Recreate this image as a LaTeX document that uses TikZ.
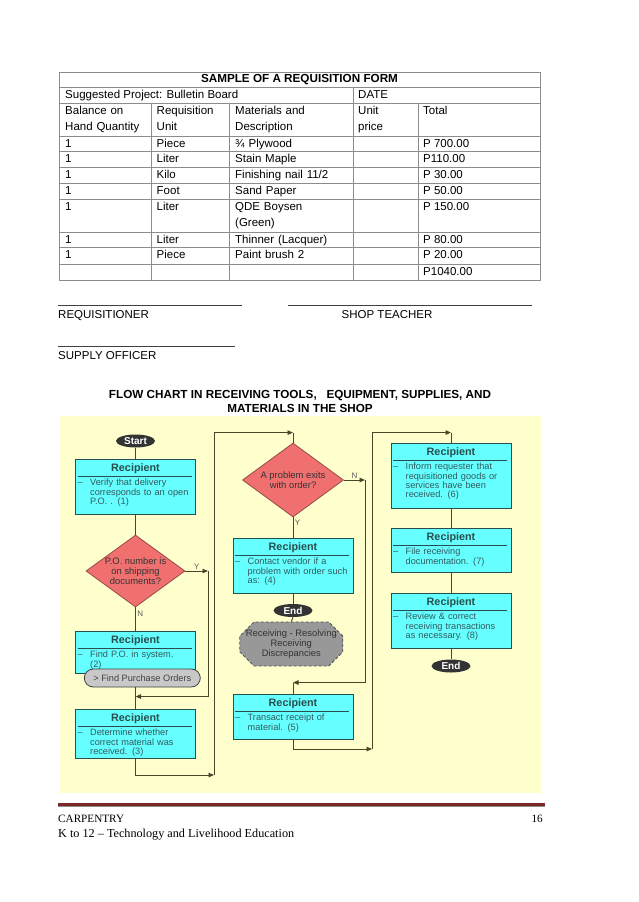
\documentclass[tikz,border=0pt]{standalone}
\usepackage{fontspec}
\setmainfont{Liberation Sans}
\newfontfamily\footfont{Liberation Serif}
\usetikzlibrary{arrows.meta,positioning,shapes.geometric,shapes.misc,calc}
\definecolor{formline}{RGB}{140,140,140}
\definecolor{chartbg}{RGB}{255,255,206}
\definecolor{boxcyan}{RGB}{102,255,255}
\definecolor{boxedge}{RGB}{40,78,78}
\definecolor{boxtext}{RGB}{50,90,95}
\definecolor{decisionred}{RGB}{240,112,112}
\definecolor{decisionedge}{RGB}{150,75,75}
\definecolor{flowline}{RGB}{75,70,40}
\definecolor{termgray}{RGB}{51,51,51}
\definecolor{subgray}{RGB}{200,200,200}
\definecolor{hexgray}{RGB}{152,152,152}
\definecolor{footred}{RGB}{122,40,40}

\begin{document}
\begin{tikzpicture}[x=1pt,y=-1pt,
    cell/.style={anchor=base west,inner sep=0pt,align=left,
      font=\fontsize{11.5}{16}\selectfont},
    heading/.style={anchor=base,inner sep=0pt,
      font=\fontsize{11.7}{14}\selectfont\bfseries},
    recbox/.style={draw=boxedge,fill=boxcyan,line width=0.9pt,
      minimum width=120pt,inner sep=0pt},
    rectitle/.style={anchor=base,inner sep=0pt,text=boxedge,
      font=\fontsize{10.8}{12}\selectfont\bfseries},
    recbody/.style={anchor=base west,inner sep=0pt,text width=104pt,
      align=left,text=boxtext,font=\fontsize{9.2}{9.2}\selectfont},
    decision/.style={diamond,draw=decisionedge,fill=decisionred,
      line width=0.8pt,inner sep=0pt},
    dectext/.style={align=center,inner sep=0pt,text=black!80,
      font=\fontsize{9.4}{10.3}\selectfont},
    term/.style={ellipse,fill=termgray,text=white,inner sep=0pt,
      minimum width=39pt,minimum height=13pt,
      font=\fontsize{10}{10}\selectfont\bfseries},
    subproc/.style={rounded rectangle,draw=black!75,fill=subgray,
      line width=0.8pt,inner sep=0pt,minimum width=116pt,minimum height=18pt,
      text=black!75,font=\fontsize{9.2}{10}\selectfont},
    hexproc/.style={chamfered rectangle,chamfered rectangle xsep=6pt,
      chamfered rectangle ysep=8pt,draw=black!70,densely dashed,
      fill=hexgray,line width=0.8pt,inner sep=0pt,minimum width=97pt,
      minimum height=34pt,align=center,text=black!80,
      font=\fontsize{9.4}{9.6}\selectfont},
    flow/.style={draw=flowline,line width=0.9pt},
    flowarrow/.style={flow,-{Triangle[length=5.5pt,width=4.5pt]}},
    flowlabel/.style={inner sep=1.5pt,text=black!65,
      font=\fontsize{8}{8}\selectfont},
    foot/.style={anchor=base west,inner sep=0pt,
      font=\footfont\fontsize{11.2}{13}\selectfont}]
  \useasboundingbox (0,0) rectangle (638,902);
  \fill[white] (0,0) rectangle (638,902);

  \draw[formline,line width=0.8pt] (59,72) rectangle (540,280);
  \foreach \ry in {87,103,136,151,167,183,199,232,247,264}
    \draw[formline,line width=0.8pt] (59,\ry) -- (540,\ry);
  \foreach \cx in {151,229,418}
    \draw[formline,line width=0.8pt] (\cx,103) -- (\cx,280);
  \draw[formline,line width=0.8pt] (353,87) -- (353,280);

  \node[heading] (formtitle) at (299.5,82.5) {SAMPLE OF A REQUISITION FORM};
  \node[cell] (project) at (65,98.5) {Suggested Project: Bulletin Board};
  \node[cell] (date) at (358,98.5) {DATE};
  \node[cell,text width=88pt] (balance) at (65,114.5) {Balance on\\Hand Quantity};
  \node[cell,text width=70pt] (requnit) at (156.5,114.5) {Requisition\\Unit};
  \node[cell,text width=110pt] (material) at (235,114.5) {Materials and\\Description};
  \node[cell,text width=60pt] (price) at (358,114.5) {Unit\\price};
  \node[cell] (total) at (423,114.5) {Total};
  \foreach \ry/\un/\mat/\tot [count=\i] in {
      136/Piece/{¾ Plywood}/{P 700.00},
      151/Liter/{Stain Maple}/{P110.00},
      167/Kilo/{Finishing nail 11/2}/{P 30.00},
      183/Foot/{Sand Paper}/{P 50.00},
      199/Liter/{QDE Boysen\\(Green)}/{P 150.00},
      232/Liter/{Thinner (Lacquer)}/{P 80.00},
      247/Piece/{Paint brush 2}/{P 20.00}}{
    \node[cell] (qty\i) at (65,\ry+11.2) {1};
    \node[cell] (unit\i) at (156.5,\ry+11.2) {\un};
    \node[cell,text width=115pt] (mat\i) at (235,\ry+11.2) {\mat};
    \node[cell] (tot\i) at (423,\ry+11.2) {\tot};
  }
  \node[cell] (sum) at (423,275.2) {P1040.00};

  \draw[black!75,line width=0.6pt] (58,305.5) -- (242,305.5);
  \draw[black!75,line width=0.6pt] (288,305.5) -- (532,305.5);
  \draw[black!75,line width=0.6pt] (58,346.5) -- (235,346.5);
  \node[cell] (requisitioner) at (58,318.5) {REQUISITIONER};
  \node[cell] (teacher) at (341.5,318.5) {SHOP TEACHER};
  \node[cell] (supply) at (58,359) {SUPPLY OFFICER};

  \node[heading] (charttitle) at (300,398.3)
    {FLOW CHART IN RECEIVING TOOLS,\ \ \ EQUIPMENT, SUPPLIES, AND};
  \node[heading] (chartsub) at (300,412.3) {MATERIALS IN THE SHOP};

  \fill[chartbg] (60,416) rectangle (541,793);

  \foreach \nm/\cx/\ya/\yb/\txt in {
      r1/135.5/459/514/{Verify that delivery\\corresponds to an open\\P.O. . (1)},
      r2/135.5/631/673/{Find P.O. in system.\\(2)},
      r3/135.5/709/758/{Determine whether\\correct material was\\received. (3)},
      r4/293/538/593/{Contact vendor if a\\problem with order such\\as: (4)},
      r5/293/694/739/{Transact receipt of\\material. (5)},
      r6/451/443/508/{Inform requester that\\requisitioned goods or\\services have been\\received. (6)},
      r7/451/528/572/{File receiving\\documentation. (7)},
      r8/451/593/648/{Review \& correct\\receiving transactions\\as necessary. (8)}}{
    \node[recbox,minimum height={\yb-\ya}] (\nm) at (\cx,{(\ya+\yb)/2}) {};
    \node[rectitle] (\nm-t) at (\cx,\ya+12) {Recipient};
    \draw[boxedge,line width=0.8pt] (\cx-58,\ya+17) -- (\cx+56,\ya+17);
    \node[recbody] (\nm-b) at (\cx-45.5,\ya+26.8)
      {\llap{\textendash\hspace{7.5pt}}\txt};
  }

  \node[term] (start) at (135.5,441) {Start};
  \node[decision,minimum width=99pt,minimum height=72pt] (d1) at (135.5,571) {};
  \node[dectext] (d1-t) at (d1.center) {P.O. number is\\on shipping\\documents?};
  \node[decision,minimum width=101pt,minimum height=74pt] (d2) at (293,480) {};
  \node[dectext] (d2-t) at (d2.center) {A problem exits\\with order?};
  \node[subproc] (findpo) at (142.3,678) {> Find Purchase Orders};
  \node[term] (end1) at (293,610.5) {End};
  \node[hexproc] (resolve) at (291.3,644)
    {Receiving - Resolving\\Receiving\\Discrepancies};
  \node[term] (end2) at (451,666) {End};

  \coordinate (ybend) at (208,571);
  \coordinate (ymerge) at ($(r3.north)+(0,-12)$);
  \coordinate (loopa) at (214,775);
  \coordinate (loopb) at ($(d2.north)+(0,-10)$);
  \coordinate (nbend) at (365,480);
  \coordinate (nmerge) at ($(r5.north)+(0,-11)$);
  \coordinate (loopc) at (372,749);
  \coordinate (loopd) at ($(r6.north)+(0,-10)$);

  \draw[flow] (start.south) -- (r1.north);
  \draw[flow] (r1.south) -- (d1.north);
  \draw[flow] (d1.south) -- node[right,flowlabel,pos=0.27]{N} (r2.north);
  \draw[flowarrow] (d1.east) -- node[above,flowlabel]{Y} (ybend);
  \draw[flowarrow] (ybend) |- (ymerge);
  \draw[flow] (r3.north |- findpo.south) -- (r3.north);
  \draw[flowarrow] (r3.south) |- (loopa);
  \draw[flowarrow] (loopa) -- (loopa |- loopb) -- (loopb);
  \draw[flow] (loopb) -- (d2.north);
  \draw[flowarrow] (d2.east) -- node[above,flowlabel,pos=0.5]{N} (nbend);
  \draw[flowarrow] (nbend) |- (nmerge);
  \draw[flow] (nmerge) -- (r5.north);
  \draw[flow] (d2.south) -- node[right,flowlabel,pos=0.27]{Y} (r4.north);
  \draw[flow] (r4.south) -- (end1.north);
  \draw[flow] (end1.south) -- (resolve.north);
  \draw[flowarrow] (r5.south) |- (loopc);
  \draw[flowarrow] (loopc) -- (loopc |- loopd) -- (loopd);
  \draw[flow] (loopd) -- (r6.north);
  \draw[flow] (r6.south) -- (r7.north);
  \draw[flow] (r7.south) -- (r8.north);
  \draw[flow] (r8.south) -- (end2.north);

  \draw[footred,line width=3pt] (58,804) -- (545,804);
  \draw[black!45,line width=0.8pt] (58,806) -- (545,806);
  \node[foot] (course) at (58,822.5) {CARPENTRY};
  \node[foot,anchor=base east] (page) at (543,822.5) {16};
  \node[foot,font=\footfont\fontsize{12.2}{13}\selectfont] (series) at (58,837)
    {K to 12 – Technology and Livelihood Education};
\end{tikzpicture}
\end{document}
